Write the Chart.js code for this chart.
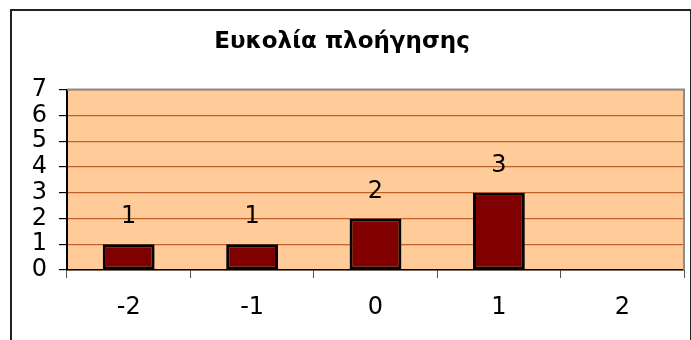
<!DOCTYPE html>
<html>
<head>
<meta charset="utf-8">
<script src="https://cdn.jsdelivr.net/npm/chart.js@4"></script>
<style>
  html, body { margin: 0; padding: 0; background: #fff; overflow: hidden; }
  #wrap { position: relative; width: 691px; height: 340px; }
  #frame {
    position: absolute; left: 10px; top: 9px;
    width: 678px; height: 400px;
    border: 2px solid #222;
    pointer-events: none;
  }
  canvas { position: absolute; left: 0; top: 0; }
</style>
</head>
<body>
<div id="wrap">
  <canvas id="chart" width="691" height="340"></canvas>
  <div id="frame"></div>
</div>
<script>
// Datos del gráfico
const categories = ['-2', '-1', '0', '1', '2'];
const counts = [1, 1, 2, 3, 0];
const yTicks = [0, 1, 2, 3, 4, 5, 6, 7];
const chartTitle = 'Ευκολία πλοήγησης';

const FONT = '"DejaVu Sans", Verdana, sans-serif';

// Fondo del área de trazado y borde gris arriba/derecha
const plotArea = {
    id: 'plotArea',
    beforeDraw(chart) {
        const { ctx, chartArea: a } = chart;
        ctx.save();
        ctx.fillStyle = '#FFCC99';
        ctx.fillRect(a.left, a.top, a.right - a.left, a.bottom - a.top);
        ctx.restore();
    },
    afterDraw(chart) {
        const { ctx, chartArea: a } = chart;
        ctx.save();
        ctx.strokeStyle = '#8c8c8c';
        ctx.lineWidth = 2;
        ctx.beginPath();
        ctx.moveTo(a.left, a.top);
        ctx.lineTo(a.right, a.top);
        ctx.lineTo(a.right, a.bottom);
        ctx.stroke();
        ctx.restore();
    }
};

// Etiquetas de valor encima de cada barra
const valueLabels = {
    id: 'valueLabels',
    afterDatasetsDraw(chart) {
        const { ctx } = chart;
        const meta = chart.getDatasetMeta(0);
        ctx.save();
        ctx.font = '24px ' + FONT;
        ctx.fillStyle = '#000';
        ctx.textAlign = 'center';
        ctx.textBaseline = 'middle';
        meta.data.forEach((bar, i) => {
            const v = counts[i];
            if (!v) return;
            ctx.fillText(String(v), bar.x, bar.y - 27);
        });
        ctx.restore();
    }
};

new Chart(document.getElementById('chart'), {
    type: 'bar',
    data: {
        labels: categories,
        datasets: [{
            data: counts,
            backgroundColor: '#800000',
            borderColor: '#000',
            borderWidth: 3,
            borderSkipped: false,
            categoryPercentage: 1,
            barPercentage: 0.42
        }]
    },
    options: {
        responsive: false,
        animation: false,
        layout: { padding: { left: 0, right: 7, top: 0, bottom: 0 } },
        plugins: {
            legend: { display: false },
            tooltip: { enabled: false },
            title: {
                display: true,
                text: chartTitle,
                color: '#000',
                font: { family: FONT, size: 23, weight: 'bold', lineHeight: 1.2 },
                padding: { top: 28, bottom: 34 }
            }
        },
        scales: {
            x: {
                offset: true,
                afterFit: s => { s.height = 70; },
                grid: {
                    offset: true,
                    drawOnChartArea: false,
                    tickLength: 8,
                    tickColor: '#555',
                    tickWidth: 1
                },
                border: { color: '#000', width: 1.5 },
                ticks: {
                    color: '#000',
                    padding: 15,
                    font: { family: FONT, size: 24 }
                }
            },
            y: {
                min: 0,
                max: 7,
                afterFit: s => { s.width = 67; },
                afterBuildTicks: s => { s.ticks = yTicks.map(v => ({ value: v })); },
                grid: {
                    color: '#C0602A',
                    lineWidth: 1.2,
                    tickLength: 8,
                    tickColor: '#000',
                    tickWidth: 1.2
                },
                border: { color: '#000', width: 2 },
                ticks: {
                    color: '#000',
                    padding: 12,
                    autoSkip: false,
                    font: { family: FONT, size: 24 }
                }
            }
        }
    },
    plugins: [plotArea, valueLabels]
});
</script>
</body>
</html>
